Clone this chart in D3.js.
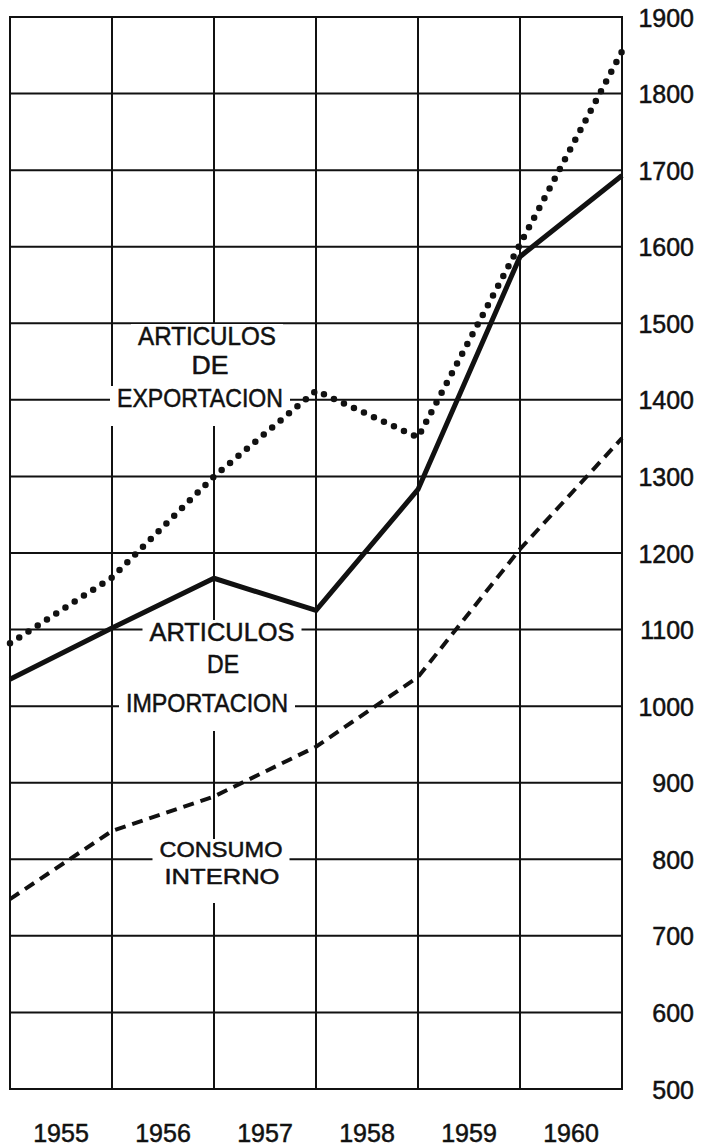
<!DOCTYPE html>
<html>
<head>
<meta charset="utf-8">
<style>
body { margin: 0; background: #fff; }
text { font-family: "Liberation Sans", Arial, sans-serif; fill: #111; stroke: #111; stroke-width: 0.5; }
.grid line { stroke: #111; stroke-width: 2; }
.series { fill: none; stroke: #111; }
</style>
</head>
<body>
<script src="https://cdn.jsdelivr.net/npm/d3@7"></script>
<script>
var width = 702,
    height = 1147;

var years = [1955, 1956, 1957, 1958, 1959, 1960];
var yTicks = [500, 600, 700, 800, 900, 1000, 1100, 1200, 1300, 1400, 1500, 1600, 1700, 1800, 1900];

// values at the 7 column edges
var exportacion = [1082, 1168, 1300, 1412, 1351, 1603, 1855];
var importacion = [1035, 1102, 1167, 1125, 1283, 1587, 1693];
var consumo     = [748, 837, 882, 947, 1038, 1205, 1350];

var labelExport  = ["ARTICULOS", "DE", "EXPORTACION"];
var labelImport  = ["ARTICULOS", "DE", "IMPORTACION"];
var labelConsumo = ["CONSUMO", "INTERNO"];

var svg = d3.select("body").append("svg")
    .attr("width", width)
    .attr("height", height);

var x = d3.scaleLinear().domain([0, years.length]).range([10, 622]);
var xBand = d3.scaleBand().domain(years).range([10, 622]);
var y = d3.scaleLinear().domain([500, 1900]).range([1089, 17]);

var grid = svg.append("g").attr("class", "grid");

grid.selectAll(".h")
    .data(yTicks)
  .enter().append("line")
    .attr("class", "h")
    .attr("x1", x(0) - 1)
    .attr("x2", x(years.length) + 1)
    .attr("y1", function(d) { return y(d); })
    .attr("y2", function(d) { return y(d); });

grid.selectAll(".v")
    .data(d3.range(years.length + 1))
  .enter().append("line")
    .attr("class", "v")
    .attr("x1", function(d) { return x(d); })
    .attr("x2", function(d) { return x(d); })
    .attr("y1", y(500))
    .attr("y2", y(1900));

var yAxis = svg.append("g")
    .attr("transform", "translate(694,0)")
    .call(d3.axisLeft(y).tickValues(yTicks).tickFormat(d3.format("d")).tickSize(0).tickPadding(0));
yAxis.select(".domain").remove();
yAxis.selectAll("text")
    .style("font-family", '"Liberation Sans", Arial, sans-serif')
    .style("font-size", "25px")
    .attr("dy", "0.36em");

var xAxis = svg.append("g")
    .attr("transform", "translate(0,1124)")
    .call(d3.axisBottom(xBand).tickSize(0).tickPadding(0));
xAxis.select(".domain").remove();
xAxis.selectAll("text")
    .style("font-family", '"Liberation Sans", Arial, sans-serif')
    .style("font-size", "25px");

function label(lines, pos, size) {
  var g = svg.append("g");
  lines.forEach(function(t, i) {
    var txt = g.append("text")
        .attr("x", pos[i][0])
        .attr("y", pos[i][1])
        .attr("text-anchor", "middle")
        .attr("textLength", pos[i][2])
        .attr("lengthAdjust", "spacingAndGlyphs")
        .style("font-size", size + "px")
        .text(t);
    var b = txt.node().getBBox();
    g.insert("rect", "text")
        .attr("x", pos[i][0] - pos[i][2] / 2 - 7)
        .attr("y", b.y + 2)
        .attr("width", pos[i][2] + 14)
        .attr("height", b.height + 12)
        .attr("fill", "#fff");
  });
}

label(labelExport, [[207, 345, 138], [210, 374, 37], [200, 407, 166]], 25);
label(labelImport, [[222, 641, 145], [223, 673, 32], [207, 712, 162]], 25);
label(labelConsumo, [[221, 857, 123], [222, 884, 115]], 22);

var line = d3.line()
    .x(function(d, i) { return x(i); })
    .y(function(d) { return y(d); });

svg.append("path")
    .datum(consumo)
    .attr("class", "series")
    .attr("stroke-width", 4)
    .attr("stroke-dasharray", "11,7")
    .attr("d", line);

svg.append("path")
    .datum(exportacion)
    .attr("class", "series")
    .attr("stroke-width", 6.5)
    .attr("stroke-linecap", "round")
    .attr("stroke-dasharray", "0,11")
    .attr("d", line);

svg.append("path")
    .datum(importacion)
    .attr("class", "series")
    .attr("stroke-width", 5)
    .attr("stroke-linejoin", "miter")
    .attr("d", line);
</script>
</body>
</html>
